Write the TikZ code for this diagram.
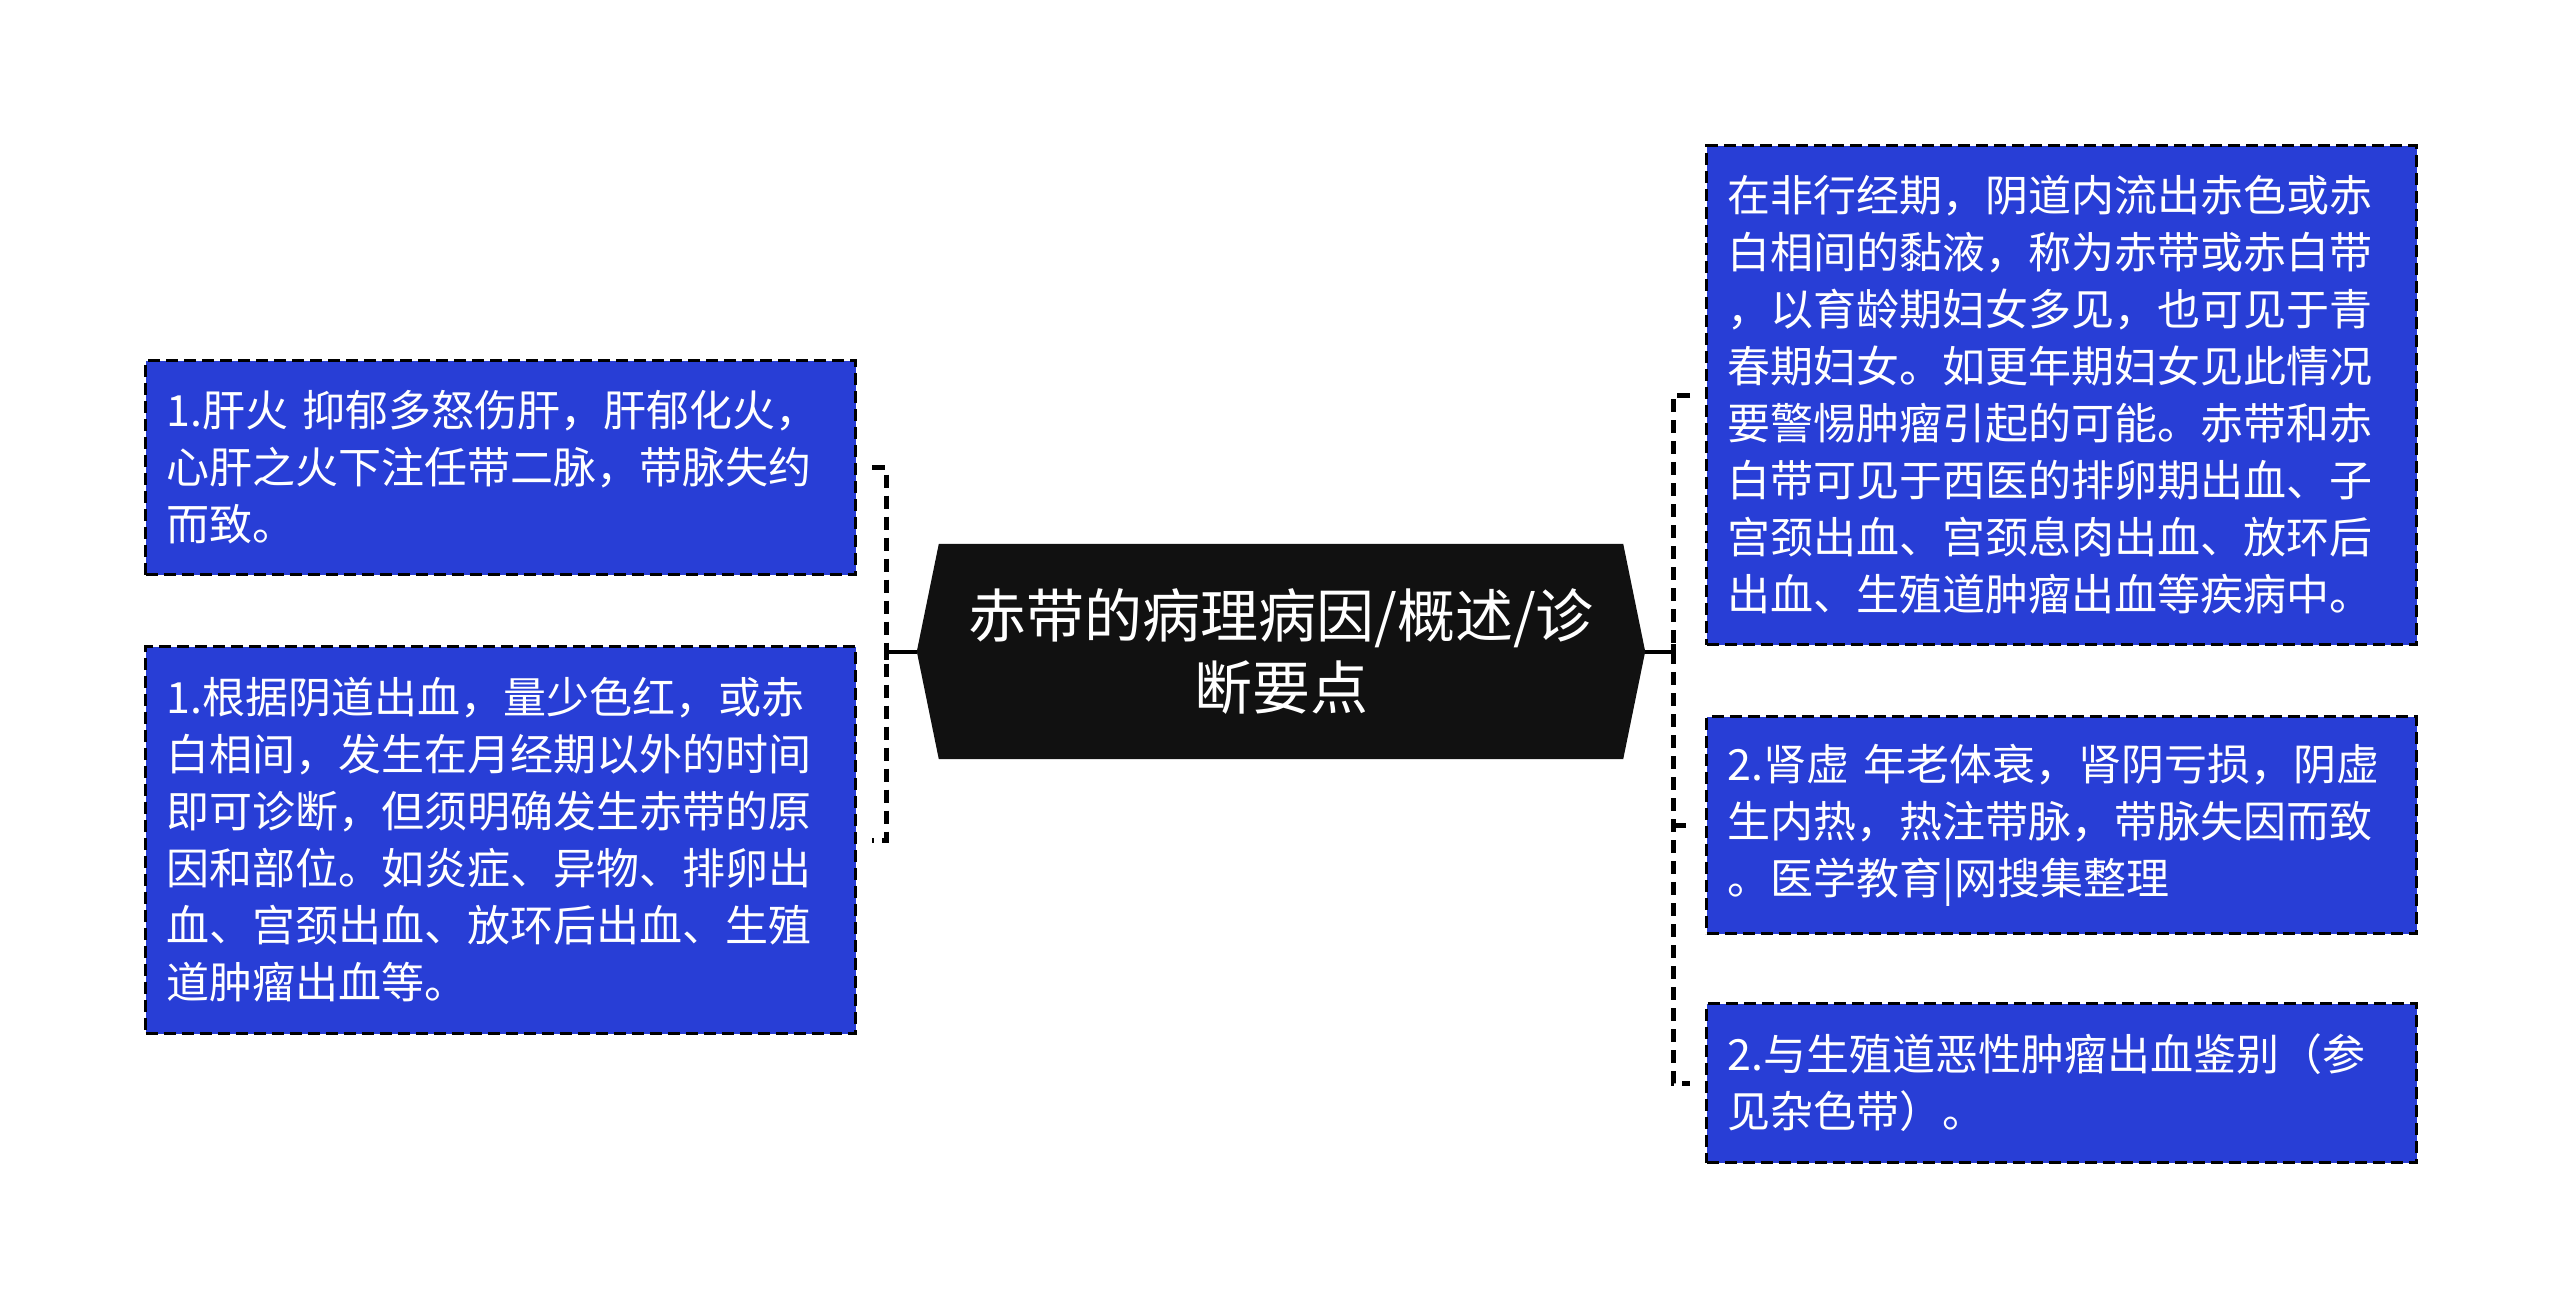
\documentclass[tikz,border=0pt]{standalone}
\usepackage{fontspec}
\newfontfamily\cjk{Noto Sans CJK SC}
\definecolor{boxblue}{RGB}{40,62,214}
\definecolor{hubfill}{RGB}{17,17,17}
\begin{document}
\begin{tikzpicture}[x=1pt,y=-1pt,
  leaf/.style={draw=black, dash pattern=on 12pt off 6pt, line width=3pt, fill=boxblue,
    text=white, font=\cjk\fontsize{43}{57}\selectfont, align=left,
    text width=668pt, inner xsep=21pt, inner ysep=0pt, anchor=north west},
  conn/.style={line width=5pt, dash pattern=on 13pt off 8pt},
  solidconn/.style={line width=4pt},
  tick/.style={line width=5pt}]
\useasboundingbox[fill=white] (0,0) rectangle (2560,1304);

% central node
\path node[minimum width=728pt, minimum height=215pt, inner sep=0pt] (c) at (1281,651.5) {};
\fill[hubfill] ([xshift=22pt]c.north west) -- (c.west) -- ([xshift=22pt]c.south west)
  -- ([xshift=-22pt]c.south east) -- (c.east) -- ([xshift=-22pt]c.north east) -- cycle;
\node[text=white, align=center, font=\cjk\fontsize{58}{72}\selectfont] (ct) at (c.center)
  {赤带的病理病因/概述/诊\\断要点};

% left boxes
\node[leaf, minimum height=214pt] (l1) at (144,359)
  {1.肝火 抑郁多怒伤肝，肝郁化火，\\心肝之火下注任带二脉，带脉失约\\而致。};
\node[leaf, minimum height=387pt] (l2) at (144,645)
  {1.根据阴道出血，量少色红，或赤\\白相间，发生在月经期以外的时间\\即可诊断，但须明确发生赤带的原\\因和部位。如炎症、异物、排卵出\\血、宫颈出血、放环后出血、生殖\\道肿瘤出血等。};

% right boxes
\node[leaf, minimum height=499pt] (r1) at (1705,144)
  {在非行经期，阴道内流出赤色或赤\\白相间的黏液，称为赤带或赤白带\\，以育龄期妇女多见，也可见于青\\春期妇女。如更年期妇女见此情况\\要警惕肿瘤引起的可能。赤带和赤\\白带可见于西医的排卵期出血、子\\宫颈出血、宫颈息肉出血、放环后\\出血、生殖道肿瘤出血等疾病中。};
\node[leaf, minimum height=217pt] (r2) at (1705,715)
  {2.肾虚 年老体衰，肾阴亏损，阴虚\\生内热，热注带脉，带脉失因而致\\。医学教育|网搜集整理};
\node[leaf, minimum height=159pt] (r3) at (1705,1002)
  {2.与生殖道恶性肿瘤出血鉴别（参\\见杂色带）。};

% connectors
\coordinate (lj) at (886,651.5);
\coordinate (rj) at (1673,651.5);
\draw[solidconn] (c.west) -- (lj);
\draw[solidconn] (c.east) -- (rj);
\draw[tick] ([yshift=-8pt]lj) -- ([yshift=8pt]lj);
\draw[tick] ([yshift=-8pt]rj) -- ([yshift=8pt]rj);
\draw[conn] ([xshift=15pt]l1.east) -| (lj) |- ([xshift=15pt]l2.east);
\draw[conn] ([xshift=-15pt]r1.west) -| (rj) |- ([xshift=-15pt]r3.west);
\draw[conn] (rj|-r2.west) -- ([xshift=-15pt]r2.west);
\end{tikzpicture}
\end{document}
